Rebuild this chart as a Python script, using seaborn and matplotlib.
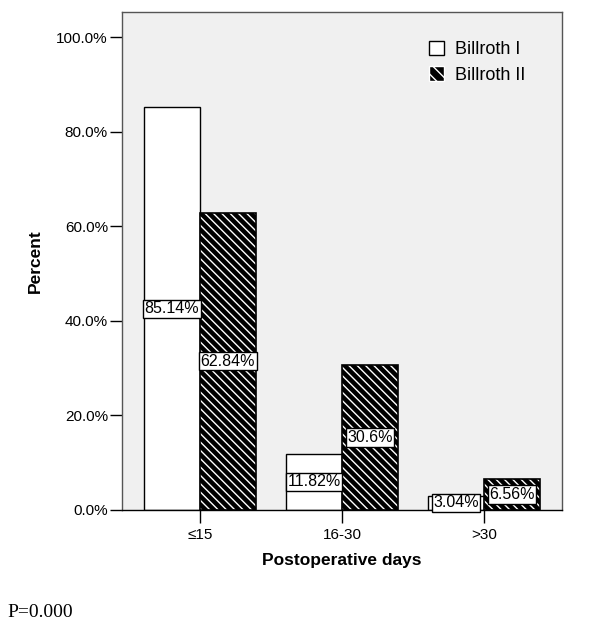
import pandas as pd
import seaborn as sns
import matplotlib.pyplot as plt
from matplotlib.patches import Rectangle
from matplotlib.ticker import PercentFormatter

# values
days = ['≤15', '16-30', '>30']
billroth_1 = [85.14, 11.82, 3.04]
billroth_2 = [62.84, 30.6, 6.56]
label_1 = ['85.14%', '11.82%', '3.04%']
label_2 = ['62.84%', '30.6%', '6.56%']

data = pd.DataFrame({
    'days': days * 2,
    'pct': billroth_1 + billroth_2,
    'group': ['Billroth I'] * 3 + ['Billroth II'] * 3,
    'label': label_1 + label_2,
})

sns.set_style('white')
plt.rcParams['font.family'] = ['Liberation Sans', 'DejaVu Sans']
plt.rcParams['hatch.linewidth'] = 1.0
for key in ['text.color', 'axes.labelcolor', 'xtick.color', 'ytick.color']:
    plt.rcParams[key] = 'black'

HATCH = '\\' * 4

fig = plt.figure(figsize=(6, 6.39), dpi=100)
ax = fig.add_axes([0.203, 0.202, 0.734, 0.779])
ax.set_facecolor('#f0f0f0')

sns.barplot(data=data, x='days', y='pct', hue='group', order=days,
            palette=['white', 'black'], width=0.79, gap=0, saturation=1,
            edgecolor='black', linewidth=1, ax=ax, legend=False)

# hatch the Billroth II bars: white diagonal lines on black, black outline on top
bars = ax.patches[:6]
for i, p in enumerate(bars):
    if i >= 3:
        p.set_edgecolor('white')
        p.set_linewidth(0)
        p.set_hatch(HATCH)
        ax.add_patch(Rectangle(p.get_xy(), p.get_width(), p.get_height(),
                               fill=False, edgecolor='black', linewidth=1.2, zorder=p.get_zorder() + 0.1))

# boxed value labels at half the bar height
for p, txt in zip(bars, data['label']):
    ax.text(p.get_x() + p.get_width() / 2, p.get_height() / 2, txt,
            ha='center', va='center', fontsize=11.5, zorder=5,
            bbox=dict(boxstyle='square,pad=0.1', facecolor='white', edgecolor='black', linewidth=1))

ax.set_xlim(-0.55, 2.55)
ax.set_ylim(0, 105.3)
ax.set_yticks([0, 20, 40, 60, 80, 100])
ax.yaxis.set_major_formatter(PercentFormatter(decimals=1))
ax.tick_params(axis='both', direction='out', length=9, width=1, color='black', labelsize=11, left=True, bottom=True)
ax.tick_params(axis='y', pad=1)
ax.tick_params(axis='x', pad=4)

for side in ['left', 'top', 'right']:
    ax.spines[side].set_color('#555555')
    ax.spines[side].set_linewidth(1)
ax.spines['bottom'].set_color('black')
ax.spines['bottom'].set_linewidth(1)

ax.set_xlabel('Postoperative days', fontsize=12.5, fontweight='bold', labelpad=8)
ax.set_ylabel('Percent', fontsize=12.5, fontweight='bold', labelpad=10)

handles = [
    Rectangle((0, 0), 1, 1, facecolor='white', edgecolor='black', linewidth=1),
    Rectangle((0, 0), 1, 1, facecolor='black', edgecolor='black', linewidth=1, hatch='\\\\\\'),
]
leg = ax.legend(handles, ['Billroth I', 'Billroth II'], loc='upper left',
                bbox_to_anchor=(0.66, 0.975), frameon=False, fontsize=13,
                handlelength=0.85, handleheight=0.85, handletextpad=0.6, labelspacing=0.45)
for h in leg.legend_handles:
    if h.get_hatch():
        h.set_edgecolor('white')

fig.text(0.013, 0.034, 'P=0.000', fontsize=14, family=['Liberation Serif', 'DejaVu Serif'])

fig.savefig('out.png', dpi=100, facecolor='white')
